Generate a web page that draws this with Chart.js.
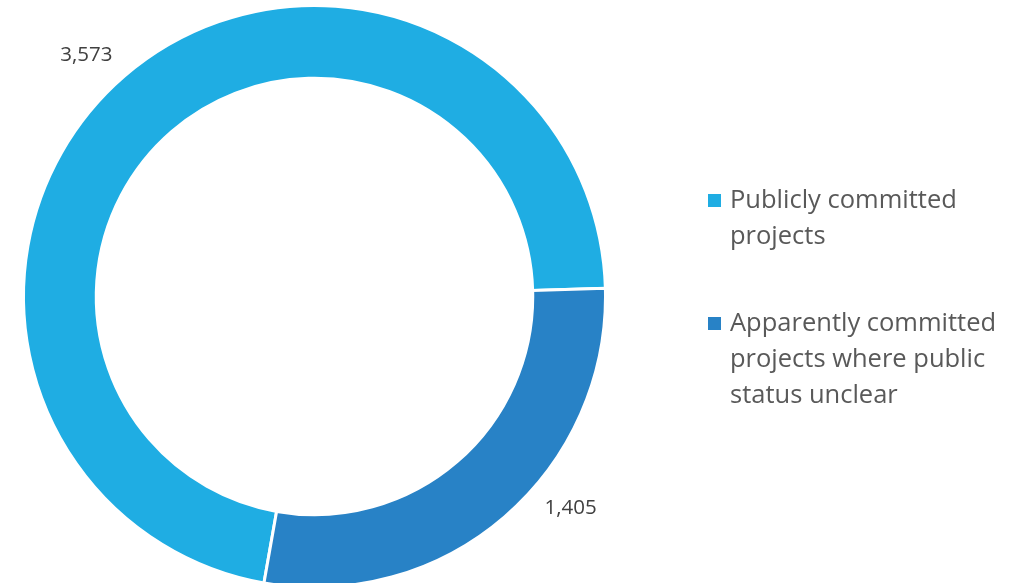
<!DOCTYPE html>
<html>
<head>
<meta charset="utf-8">
<script src="https://cdn.jsdelivr.net/npm/chart.js@4.4.1/dist/chart.umd.min.js"></script>
<style>
    html, body { margin: 0; padding: 0; background: #fff; overflow: hidden; }
    #wrap { position: relative; width: 1023px; height: 592px; }
    #legend {
        position: absolute; left: 708px; top: 180px;
        font-family: "Open Sans", sans-serif; font-size: 25.5px; line-height: 36px; color: #595959;
    }
    .item { position: relative; padding-left: 22px; margin-bottom: 51px; white-space: nowrap; }
    .swatch { position: absolute; left: 0; top: 14px; width: 13px; height: 13px; }
</style>
</head>
<body>
<div id="wrap">
    <canvas id="donutChart"></canvas>
    <div id="legend"></div>
</div>
<script>
const categories = [
    ['Publicly committed', 'projects'],
    ['Apparently committed', 'projects where public', 'status unclear']
];
const projectCounts = [3573, 1405];
const sliceColors = ['#1fade3', '#2882c6'];

// value labels sit outside the ring; small angle nudges per slice
const labelShift = [-2.6, -9.7];

const outsideLabels = {
    id: 'outsideLabels',
    afterDatasetsDraw(chart) {
        const { ctx } = chart;
        const arcs = chart.getDatasetMeta(0).data;
        ctx.save();
        ctx.font = '20.5px "Open Sans", sans-serif';
        ctx.fillStyle = '#404040';
        ctx.textAlign = 'center';
        ctx.textBaseline = 'middle';
        arcs.forEach((arc, i) => {
            const { x, y, startAngle, endAngle, outerRadius } = arc.getProps(['x', 'y', 'startAngle', 'endAngle', 'outerRadius'], true);
            const mid = (startAngle + endAngle) / 2 + labelShift[i] * Math.PI / 180;
            const r = outerRadius + 41;
            ctx.fillText(projectCounts[i].toLocaleString('en-US'), x + Math.cos(mid) * r, y + Math.sin(mid) * r);
        });
        ctx.restore();
    }
};

const chart = new Chart(document.getElementById('donutChart'), {
    type: 'doughnut',
    data: {
        labels: categories,
        datasets: [{
            data: projectCounts,
            backgroundColor: sliceColors,
            borderColor: '#ffffff',
            borderWidth: 3
        }]
    },
    options: {
        responsive: true,
        maintainAspectRatio: false,
        animation: false,
        rotation: 190,
        cutout: '75%',
        layout: { padding: { left: 22, right: 416, top: 4, bottom: 3 } },
        plugins: {
            legend: { display: false },
            tooltip: { enabled: false }
        }
    },
    plugins: [outsideLabels]
});

const legend = document.getElementById('legend');
categories.forEach((lines, i) => {
    const item = document.createElement('div');
    item.className = 'item';
    item.innerHTML = '<span class="swatch" style="background:' + sliceColors[i] + '"></span>' + lines.join('<br>');
    legend.appendChild(item);
});
</script>
</body>
</html>
